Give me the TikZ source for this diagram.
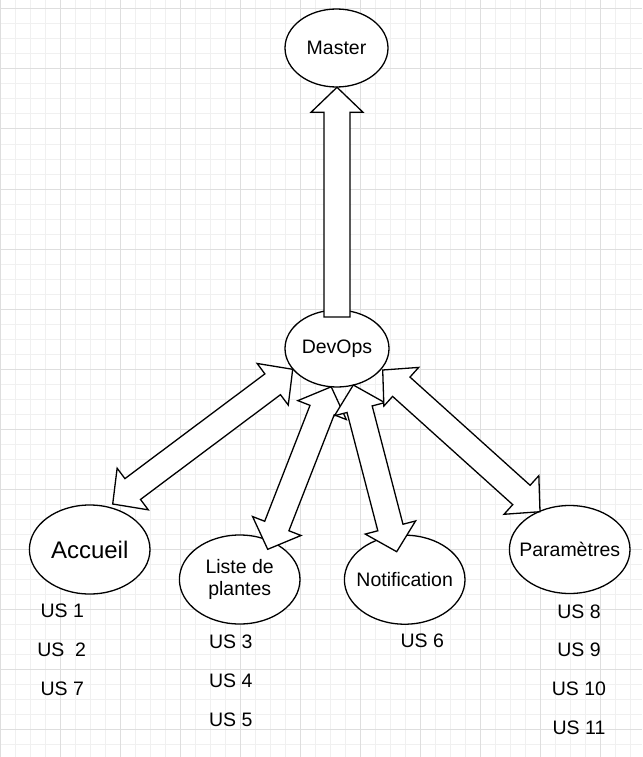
\documentclass[tikz,border=0pt]{standalone}
\usepackage{fontspec}
\setmainfont{Liberation Sans}
\usetikzlibrary{shapes.geometric,calc}
\newcommand\DblFlex[2]{%
  \coordinate (fP) at ($(#1)!25pt!(#2)$);
  \coordinate (fQ) at ($(#2)!25pt!(#1)$);
  \draw[flexarrow] (#1) -- ($(fP)!26pt!90:(#2)$) -- ($(fP)!13pt!90:(#2)$)
    -- ($(fQ)!13pt!-90:(#1)$) -- ($(fQ)!26pt!-90:(#1)$) -- (#2)
    -- ($(fQ)!26pt!90:(#1)$) -- ($(fQ)!13pt!90:(#1)$)
    -- ($(fP)!13pt!-90:(#2)$) -- ($(fP)!26pt!-90:(#2)$) -- cycle;}
\newcommand\OneFlex[2]{%
  \coordinate (fP) at ($(#2)!25pt!(#1)$);
  \draw[flexarrow] ($(#1)!13pt!90:(#2)$) -- ($(fP)!13pt!-90:(#1)$)
    -- ($(fP)!26pt!-90:(#1)$) -- (#2) -- ($(fP)!26pt!90:(#1)$)
    -- ($(fP)!13pt!90:(#1)$) -- ($(#1)!13pt!-90:(#2)$) -- cycle;}
\begin{document}
\begin{tikzpicture}[x=1pt,y=-1pt,
  minorgrid/.style={draw=black!6, line width=1pt},
  majorgrid/.style={draw=black!13, line width=1pt},
  bubble/.style={ellipse, draw=black, line width=1.3pt, fill=white, inner sep=0pt, outer sep=0pt,
    font=\fontsize{19.5}{22.4}\selectfont, align=center},
  flexarrow/.style={draw=black, line width=1.3pt, fill=white, line join=miter},
  uslabel/.style={inner sep=0pt, font=\fontsize{19.5}{22.4}\selectfont}]
\useasboundingbox (0,0) rectangle (642,757);
\fill[white] (0,0) rectangle (642,757);
\foreach \x in {0,15,...,630} \draw[minorgrid] (\x,0) -- (\x,757);
\foreach \y in {9,24,...,744} \draw[minorgrid] (0,\y) -- (642,\y);
\foreach \x in {0,60,...,600} \draw[majorgrid] (\x,0) -- (\x,757);
\foreach \y in {9,69,...,729} \draw[majorgrid] (0,\y) -- (642,\y);

% nodes
\node[bubble, minimum width=103, minimum height=78] (master) at (336.5,48) {Master};
\node[bubble, minimum width=104, minimum height=77] (devops) at (337,348.5) {DevOps};
\node[bubble, minimum width=120.6, minimum height=89, font=\fontsize{24}{28}\selectfont] (accueil) at (89.7,549.5) {Accueil};
\node[bubble, minimum width=120.6, minimum height=89] (liste) at (239.7,579.5) {Liste de\\plantes};
\node[bubble, minimum width=120.6, minimum height=89] (notif) at (404.7,579.7) {\makebox[0pt]{Notification}};
\node[bubble, minimum width=120.6, minimum height=88] (param) at (569.7,549.5) {\makebox[0pt]{Paramètres}};

% connector ends
\coordinate (acc-t) at (112.7,504);   \coordinate (dev-a) at (292.7,369.3);
\coordinate (lst-t) at (267.7,549.3); \coordinate (dev-l) at (331.2,386.8);
\coordinate (ntf-t) at (396.7,551.7); \coordinate (dev-n) at (353.3,385);
\coordinate (par-t) at (540,511.7);   \coordinate (dev-p) at (382.7,370);
\coordinate (mst-t) at (337,87.3);    \coordinate (dev-m) at (337,317);

\DblFlex{acc-t}{dev-a}
\DblFlex{lst-t}{dev-l}
\DblFlex{ntf-t}{dev-n}
\DblFlex{par-t}{dev-p}
\OneFlex{dev-m}{mst-t}

% labels
\node[uslabel] (us1) at (62.3,611) {US 1};
\node[uslabel] (us2) at (61.7,650) {US\ \ 2};
\node[uslabel] (us7) at (62.3,688.3) {US 7};
\node[uslabel] (us3) at (230.7,641.7) {US 3};
\node[uslabel] (us4) at (230.7,680.7) {US 4};
\node[uslabel] (us5) at (230.7,719.3) {US 5};
\node[uslabel] (us6) at (422.3,640.7) {US 6};
\node[uslabel] (us8) at (579,611.7) {US 8};
\node[uslabel] (us9) at (579,650) {US 9};
\node[uslabel] (us10) at (579,688.3) {US 10};
\node[uslabel] (us11) at (579,727.3) {US 11};
\end{tikzpicture}
\end{document}
